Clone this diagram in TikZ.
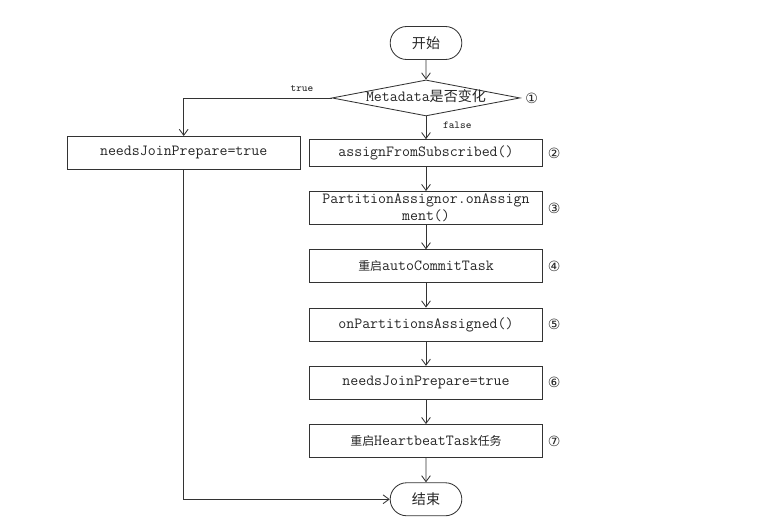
\documentclass[tikz,border=0pt]{standalone}
\usepackage{fontspec}
\newfontfamily\cjk{Noto Sans CJK SC}
\newfontfamily\symfont{DejaVu Sans}
\newcommand{\zh}[1]{{\cjk\fontsize{8.5}{12}\selectfont #1}}
\usetikzlibrary{positioning,shapes.geometric,shapes.misc,arrows.meta}

\begin{document}
\begin{tikzpicture}[
x=0.025cm,y=-0.025cm,
node distance=0.61cm,
box/.style={draw=black!80,line width=0.6pt,rectangle,minimum width=5.825cm,minimum height=0.825cm,
    inner ysep=1pt,align=center,text=black!85,font=\ttfamily\fontsize{11}{11.7}\selectfont,
    label distance=0.25cm},
term/.style={draw=black!80,line width=0.6pt,rounded rectangle,minimum width=2.025cm,minimum height=0.825cm,
    text=black!85,font=\cjk\fontsize{10}{12}\selectfont},
decision/.style={draw=black!80,line width=0.6pt,diamond,aspect=5.2,inner sep=0pt,
    minimum width=4.7cm,minimum height=0.9cm,text height=0.22cm,text depth=0.06cm,
    text=black!85,font=\ttfamily\fontsize{11}{12}\selectfont},
num/.style={text=black!85,font=\symfont\fontsize{10}{12}\selectfont},
lbl/.style={text=black!85,font=\ttfamily\fontsize{7.6}{8}\selectfont},
flow/.style={draw=black!80,line width=0.6pt,-{Straight Barb[length=1.5mm,width=2.2mm]}}]
\useasboundingbox (0,0) rectangle (784,531);

\node (start) [term] at (426,43) {开始};
\node (meta) [decision,below=0.49cm of start,
    label distance=0.76cm,label={[num]right:①}] {Metadata{\cjk\fontsize{10}{12}\selectfont 是否变化}};
\node (assign) [box,minimum height=0.665cm,below=0.57cm of meta,
    label={[num]right:②}] {assignFromSubscribed()};
\node (onassign) [box,below=of assign,
    label={[num]right:③}] {PartitionAssignor.onAssign\\ment()};
\node (autocommit) [box,below=of onassign,
    label={[num]right:④}] {\zh{重启}autoCommitTask};
\node (assigned) [box,below=of autocommit,
    label={[num]right:⑤}] {onPartitionsAssigned()};
\node (rejoin) [box,below=of assigned,
    label={[num]right:⑥}] {needsJoinPrepare=true};
\node (heartbeat) [box,below=of rejoin,
    label={[num]right:⑦}] {\zh{重启}HeartbeatTask\zh{任务}};
\node (finish) [term,below=of heartbeat] {结束};
\node (prepare) [box,left=0.21cm of assign,minimum height=0.825cm] {needsJoinPrepare=true};

% main chain
\draw[flow] (start) -- (meta);
\draw[flow] (meta) -- node[lbl,right=0.3cm,pos=0.37] {false} (assign);
\foreach \a/\b in {assign/onassign,onassign/autocommit,autocommit/assigned,
    assigned/rejoin,rejoin/heartbeat,heartbeat/finish}
  \draw[flow] (\a) -- (\b);

% metadata changed
\draw[flow] (meta.west) -| node[lbl,above=1pt,pos=0.1] {true} (prepare.north);
\draw[flow] (prepare.south) |- (finish.west);
\end{tikzpicture}
\end{document}
